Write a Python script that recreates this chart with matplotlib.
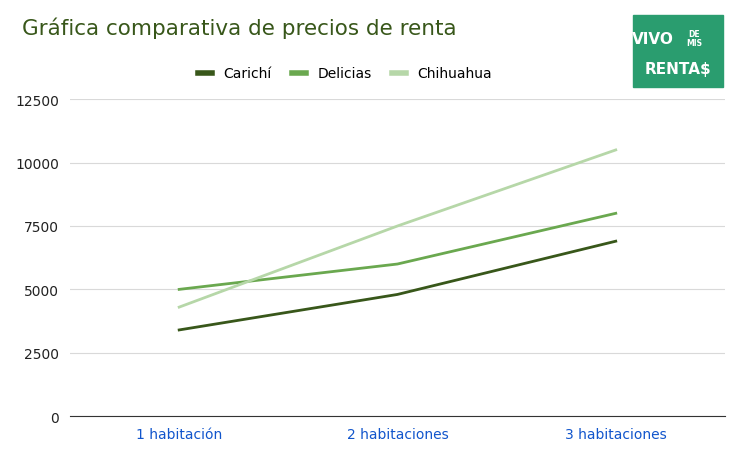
import matplotlib.pyplot as plt
from matplotlib.patches import Rectangle

categories = ['1 habitación', '2 habitaciones', '3 habitaciones']
carichi = [3400, 4800, 6900]
delicias = [5000, 6000, 8000]
chihuahua = [4300, 7500, 10500]
yticks = [0, 2500, 5000, 7500, 10000, 12500]

fig = plt.figure(figsize=(7.45, 4.64), dpi=100)
ax = fig.add_axes([0.094, 0.101, 0.879, 0.683])
x = range(len(categories))
ax.plot(x, carichi, color='#38571a', lw=2, label='Carichí')
ax.plot(x, delicias, color='#6aa84f', lw=2, label='Delicias')
ax.plot(x, chihuahua, color='#b6d7a8', lw=2, label='Chihuahua')

ax.set_xlim(-0.5, 2.5)
ax.set_ylim(0, 12500)
ax.set_yticks(yticks)
ax.set_yticklabels([str(v) for v in yticks], fontsize=10, color='#222222')
ax.set_xticks(list(x))
ax.set_xticklabels(categories, fontsize=10, color='#1155cc')
ax.grid(axis='y', color='#d9d9d9', lw=0.8)
ax.set_axisbelow(True)
for s in ['top', 'right', 'left']:
    ax.spines[s].set_visible(False)
ax.spines['bottom'].set_color('#333333')
ax.tick_params(length=0, pad=8)

fig.text(0.03, 0.925, 'Gráfica comparativa de precios de renta', fontsize=15.5, color='#38571a')
leg = ax.legend(loc='lower center', bbox_to_anchor=(0.42, 1.02), ncol=3, frameon=False,
                fontsize=10, handlelength=1.0, columnspacing=1.5)
for line in leg.get_lines():
    line.set_linewidth(4)

# logo
fig.patches.append(Rectangle((0.85, 0.81), 0.12, 0.155, transform=fig.transFigure,
                             color='#2a9d6f'))
fig.text(0.905, 0.915, 'VIVO', fontsize=11, color='white', weight='bold', ha='right', va='center')
fig.text(0.932, 0.915, 'DE\nMIS', fontsize=5.5, color='white', weight='bold', ha='center',
         va='center', linespacing=1.0)
fig.text(0.91, 0.85, 'RENTA$', fontsize=11, color='white', weight='bold', ha='center', va='center')

fig.savefig('out.png', dpi=100)
